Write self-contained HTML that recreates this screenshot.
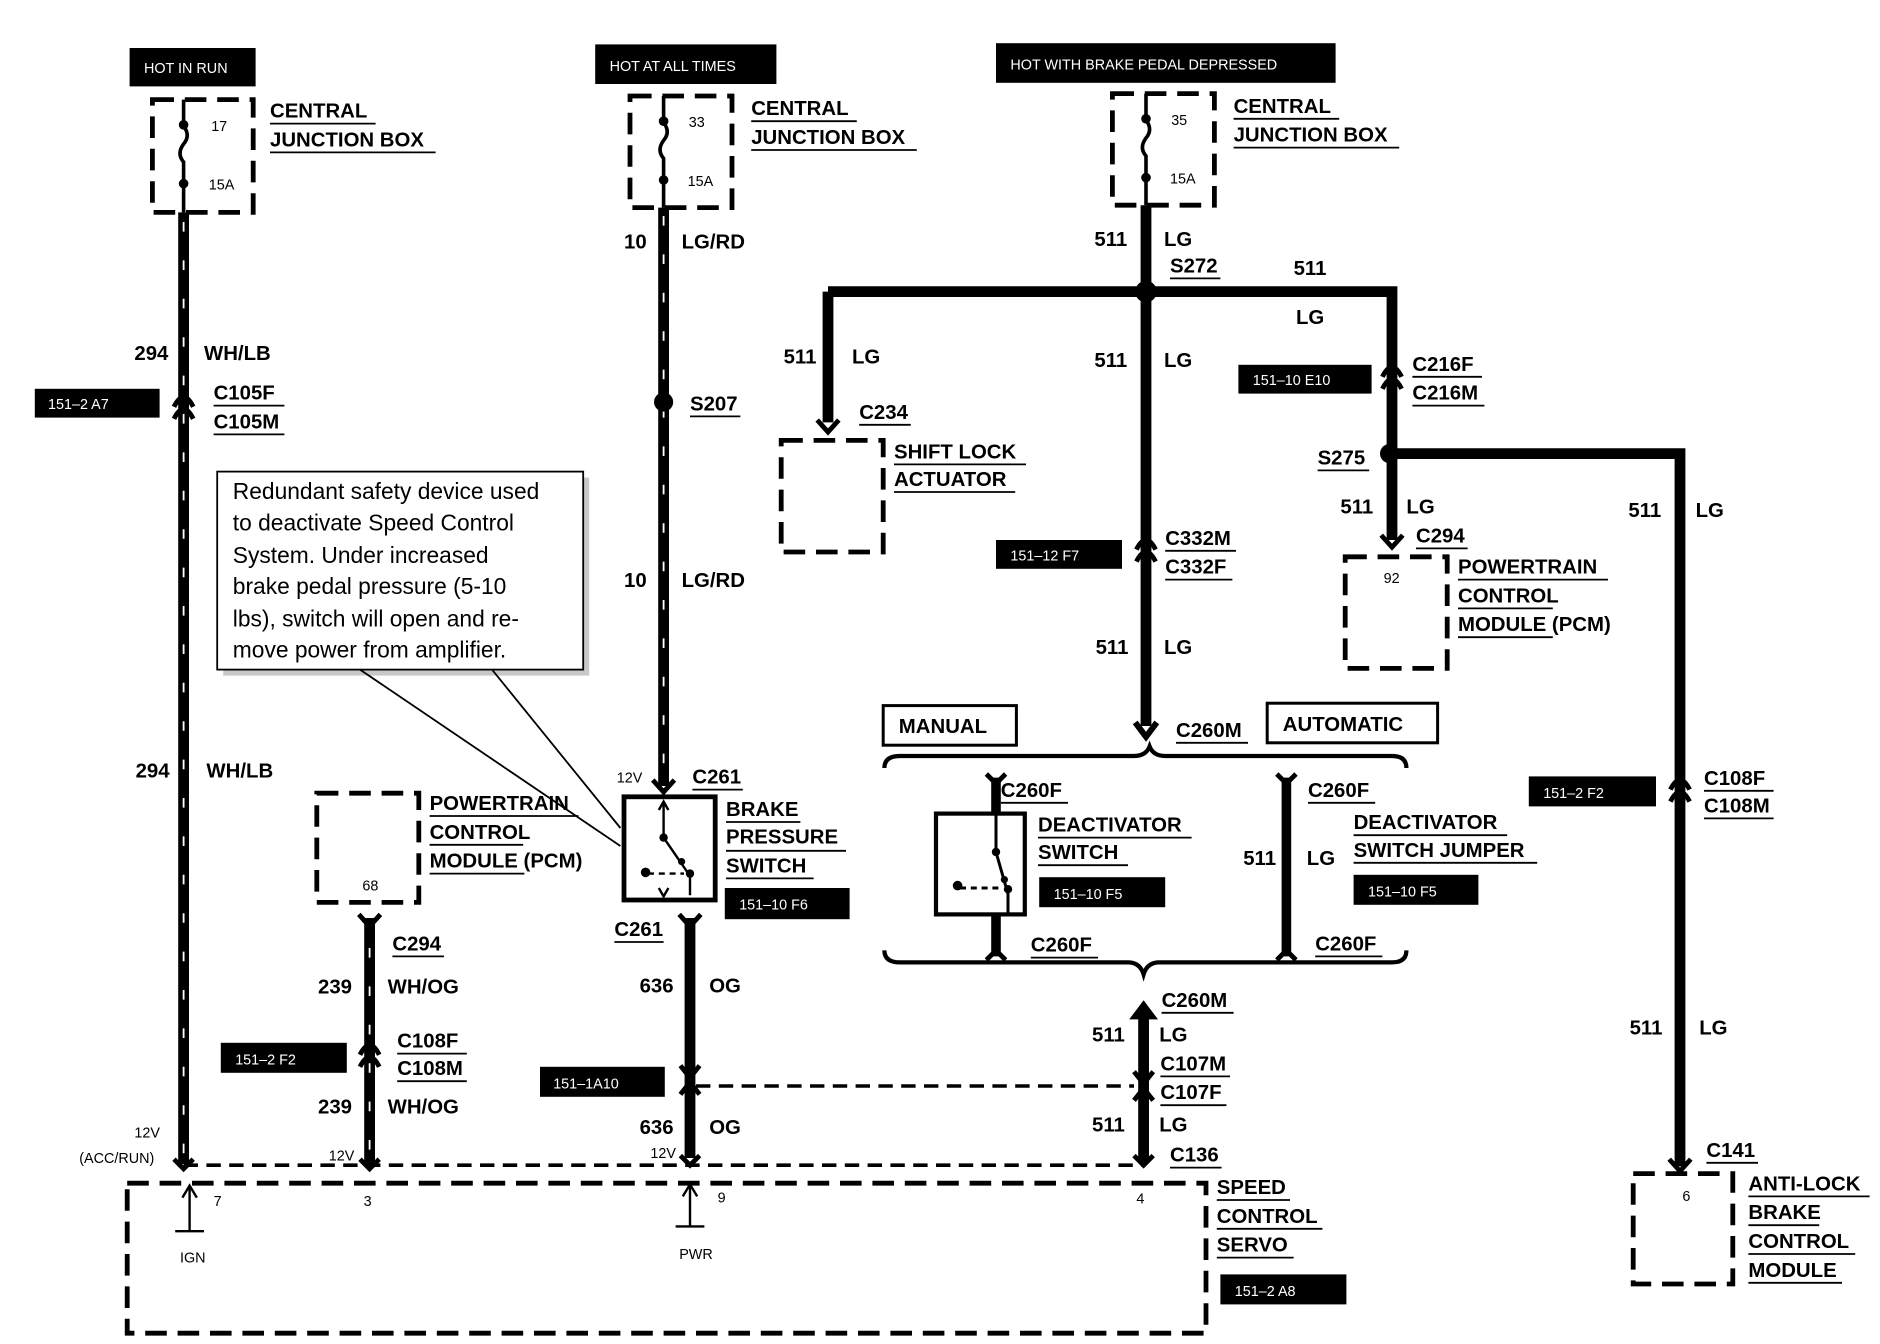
<!DOCTYPE html>
<html><head><meta charset="utf-8"><style>
html,body{margin:0;padding:0;background:#fff}
svg{display:block}
text{font-family:"Liberation Sans",sans-serif;font-weight:bold;fill:#000}
.l{font-size:17px}
.s{font-size:12px;font-weight:normal}
.w{fill:#fff;font-size:12px;font-weight:normal}
.n{font-size:19px;font-weight:normal}
</style></head><body>
<svg width="1880" height="1344" viewBox="0 0 1566.67 1120" xmlns="http://www.w3.org/2000/svg">
<defs>
<g id="conn"><path d="M-8,6 Q0,-10 8,6" fill="none" stroke="#000" stroke-width="4"/><path d="M-8,16 Q0,0 8,16" fill="none" stroke="#000" stroke-width="4"/></g>
</defs>
<rect width="1566.67" height="1120" fill="#fff"/>

<!-- Top black labels -->
<rect x="108" y="40" width="105" height="32" fill="#000"/><text x="120" y="61" class="w">HOT IN RUN</text>
<rect x="496" y="37" width="151" height="33" fill="#000"/><text x="508" y="59" class="w">HOT AT ALL TIMES</text>
<rect x="830" y="36" width="283" height="33" fill="#000"/><text x="842" y="58" class="w">HOT WITH BRAKE PEDAL DEPRESSED</text>

<!-- Fuse boxes -->
<g fill="none" stroke="#000" stroke-width="4" stroke-dasharray="18 9">
<rect x="127" y="83" width="84" height="94"/>
<rect x="525" y="80" width="85" height="93"/>
<rect x="927" y="78" width="85" height="93"/>
</g>
<g stroke="#000" stroke-width="3" fill="none">
<path d="M153,83 V105 q6,8 0,15 q-6,8 0,15 V177"/>
<path d="M553,80 V102 q6,8 0,15 q-6,8 0,15 V173"/>
<path d="M955,78 V100 q6,8 0,15 q-6,8 0,15 V171"/>
</g>
<g fill="#000"><circle cx="153" cy="104" r="4"/><circle cx="153" cy="153" r="4"/><circle cx="553" cy="101" r="4"/><circle cx="553" cy="150" r="4"/><circle cx="955" cy="99" r="4"/><circle cx="955" cy="148" r="4"/></g>
<text x="176" y="109" class="s">17</text><text x="174" y="158" class="s">15A</text>
<text x="574" y="106" class="s">33</text><text x="573" y="155" class="s">15A</text>
<text x="976" y="104" class="s">35</text><text x="975" y="153" class="s">15A</text>

<text x="225" y="98" class="l">CENTRAL</text><text x="225" y="122" class="l">JUNCTION BOX</text>
<path d="M225,103H313M225,127H363" stroke="#000" stroke-width="1.5"/>
<text x="626" y="96" class="l">CENTRAL</text><text x="626" y="120" class="l">JUNCTION BOX</text>
<path d="M626,101H714M626,125H764" stroke="#000" stroke-width="1.5"/>
<text x="1028" y="94" class="l">CENTRAL</text><text x="1028" y="118" class="l">JUNCTION BOX</text>
<path d="M1028,99H1116M1028,123H1166" stroke="#000" stroke-width="1.5"/>

<!-- Left wire -->
<path d="M153,177V970" stroke="#000" stroke-width="9"/>
<path d="M153,185V965" stroke="#fff" stroke-width="1.5" stroke-dasharray="8 24"/>
<text x="112" y="300" class="l">294</text><text x="170" y="300" class="l">WH/LB</text>
<rect x="29" y="324" width="104" height="24" fill="#000"/><text x="40" y="341" class="w">151–2 A7</text>
<use href="#conn" x="153" y="333"/>
<text x="178" y="333" class="l">C105F</text><text x="178" y="357" class="l">C105M</text>
<path d="M178,338H237M178,362H237" stroke="#000" stroke-width="1.5"/>
<text x="113" y="648" class="l">294</text><text x="172" y="648" class="l">WH/LB</text>
<text x="112" y="948" class="s">12V</text><text x="66" y="969" class="s">(ACC/RUN)</text>

<!-- Mid wire -->
<path d="M553,173V655" stroke="#000" stroke-width="9"/>
<path d="M553,180V650" stroke="#fff" stroke-width="1.5" stroke-dasharray="8 24"/>
<text x="520" y="207" class="l">10</text><text x="568" y="207" class="l">LG/RD</text>
<circle cx="553" cy="335" r="8" fill="#000"/>
<text x="575" y="342" class="l">S207</text><path d="M575,347H617" stroke="#000" stroke-width="1.5"/>
<text x="520" y="489" class="l">10</text><text x="568" y="489" class="l">LG/RD</text>
<path d="M544,650 L553,660 L562,650" stroke="#000" stroke-width="4" fill="none"/>
<text x="514" y="652" class="s">12V</text>
<text x="577" y="653" class="l">C261</text><path d="M577,658H619" stroke="#000" stroke-width="1.5"/>

<!-- Note box -->
<rect x="186" y="398" width="305" height="165" fill="#c8c8c8"/>
<rect x="181" y="393" width="305" height="165" fill="#fff" stroke="#000" stroke-width="1.5"/>
<g class="n" font-size="19" font-weight="normal">
<text x="194" y="416" class="n">Redundant safety device used</text>
<text x="194" y="442" class="n">to deactivate Speed Control</text>
<text x="194" y="469" class="n">System.  Under increased</text>
<text x="194" y="495" class="n">brake pedal pressure (5-10</text>
<text x="194" y="522" class="n">lbs), switch will open and re-</text>
<text x="194" y="548" class="n">move power from amplifier.</text>
</g>
<path d="M300,558 L517,705 M410,558 L517,690" stroke="#000" stroke-width="1.5"/>

<!-- Brake pressure switch -->
<rect x="520" y="664" width="76" height="86" fill="#fff" stroke="#000" stroke-width="4"/>
<path d="M553,668V698 L575,730 V746 M549,675 L553,668 L557,675 M549,740 L553,747 L557,740" stroke="#000" stroke-width="2" fill="none"/>
<path d="M540,728H570" stroke="#000" stroke-width="2" stroke-dasharray="5 4"/>
<circle cx="553" cy="698" r="3.5"/><circle cx="568" cy="718" r="3"/><circle cx="575" cy="728" r="3.5"/><circle cx="538" cy="727" r="4"/>
<text x="605" y="680" class="l">BRAKE</text><text x="605" y="703" class="l">PRESSURE</text><text x="605" y="727" class="l">SWITCH</text>
<path d="M605,685H667M605,709H705M605,732H678" stroke="#000" stroke-width="1.5"/>
<rect x="604" y="740" width="104" height="26" fill="#000"/><text x="616" y="758" class="w">151–10 F6</text>

<path d="M575,765V965" stroke="#000" stroke-width="9"/>
<path d="M566,762 L575,772 L584,762" stroke="#000" stroke-width="4" fill="none"/>
<text x="512" y="780" class="l">C261</text><path d="M512,785H553" stroke="#000" stroke-width="1.5"/>
<text x="533" y="827" class="l">636</text><text x="591" y="827" class="l">OG</text>
<path d="M567,888 L575,898 L583,888" stroke="#000" stroke-width="4" fill="none"/>
<path d="M567,912 L575,902 L583,912" stroke="#000" stroke-width="4" fill="none"/>
<rect x="450" y="889" width="104" height="25" fill="#000"/><text x="461" y="907" class="w">151–1A10</text>
<text x="533" y="945" class="l">636</text><text x="591" y="945" class="l">OG</text>
<text x="542" y="965" class="s">12V</text>

<!-- Left PCM -->
<rect x="264" y="661" width="85" height="91" fill="none" stroke="#000" stroke-width="4" stroke-dasharray="18 9"/>
<text x="302" y="742" class="s">68</text>
<text x="358" y="675" class="l">POWERTRAIN</text><text x="358" y="699" class="l">CONTROL</text><text x="358" y="723" class="l">MODULE (PCM)</text>
<path d="M358,680H482M358,704H436M358,728H437" stroke="#000" stroke-width="1.5"/>
<path d="M308,765V970" stroke="#000" stroke-width="9"/>
<path d="M308,790V965" stroke="#fff" stroke-width="1.5" stroke-dasharray="8 24"/>
<path d="M299,762 L308,772 L317,762" stroke="#000" stroke-width="4" fill="none"/>
<text x="327" y="792" class="l">C294</text><path d="M327,797H370" stroke="#000" stroke-width="1.5"/>
<text x="265" y="828" class="l">239</text><text x="323" y="828" class="l">WH/OG</text>
<use href="#conn" x="308" y="873"/>
<text x="331" y="873" class="l">C108F</text><text x="331" y="896" class="l">C108M</text>
<path d="M331,878H389M331,901H389" stroke="#000" stroke-width="1.5"/>
<rect x="184" y="869" width="105" height="25" fill="#000"/><text x="196" y="887" class="w">151–2 F2</text>
<text x="265" y="928" class="l">239</text><text x="323" y="928" class="l">WH/OG</text>
<text x="274" y="967" class="s">12V</text>

<!-- Right top network -->
<path d="M955,171V605" stroke="#000" stroke-width="9"/>
<path d="M690,243H1160V450 M690,243V352" stroke="#000" stroke-width="9" fill="none"/>
<circle cx="955" cy="243" r="9" fill="#000"/>
<text x="912" y="205" class="l">511</text><text x="970" y="205" class="l">LG</text>
<text x="975" y="227" class="l">S272</text><path d="M975,232H1017" stroke="#000" stroke-width="1.5"/>
<text x="1078" y="229" class="l">511</text><text x="1080" y="270" class="l">LG</text>
<text x="653" y="303" class="l">511</text><text x="710" y="303" class="l">LG</text>
<path d="M681,350 L690,360 L699,350" stroke="#000" stroke-width="4" fill="none"/>
<text x="716" y="349" class="l">C234</text><path d="M716,354H759" stroke="#000" stroke-width="1.5"/>
<rect x="651" y="367" width="85" height="93" fill="none" stroke="#000" stroke-width="4" stroke-dasharray="18 9"/>
<text x="745" y="382" class="l">SHIFT LOCK</text><text x="745" y="405" class="l">ACTUATOR</text>
<path d="M745,387H855M745,410H846" stroke="#000" stroke-width="1.5"/>
<text x="912" y="306" class="l">511</text><text x="970" y="306" class="l">LG</text>
<use href="#conn" x="955" y="452"/>
<rect x="830" y="450" width="105" height="24" fill="#000"/><text x="842" y="467" class="w">151–12 F7</text>
<text x="971" y="454" class="l">C332M</text><text x="971" y="478" class="l">C332F</text>
<path d="M971,459H1030M971,483H1027" stroke="#000" stroke-width="1.5"/>
<text x="913" y="545" class="l">511</text><text x="970" y="545" class="l">LG</text>
<path d="M946,602 L955,614 L964,602" stroke="#000" stroke-width="5" fill="none"/>
<text x="980" y="614" class="l">C260M</text><path d="M980,619H1040" stroke="#000" stroke-width="1.5"/>

<rect x="1032" y="304" width="111" height="24" fill="#000"/><text x="1044" y="321" class="w">151–10 E10</text>
<use href="#conn" x="1160" y="308"/>
<text x="1177" y="309" class="l">C216F</text><text x="1177" y="333" class="l">C216M</text>
<path d="M1177,314H1235M1177,338H1237" stroke="#000" stroke-width="1.5"/>
<path d="M1158,378H1400V972" stroke="#000" stroke-width="9" fill="none"/>
<circle cx="1158" cy="378" r="8" fill="#000"/>
<text x="1098" y="387" class="l">S275</text><path d="M1098,392H1141" stroke="#000" stroke-width="1.5"/>
<text x="1117" y="428" class="l">511</text><text x="1172" y="428" class="l">LG</text>
<path d="M1151,446 L1160,456 L1169,446" stroke="#000" stroke-width="4" fill="none"/>
<text x="1180" y="452" class="l">C294</text><path d="M1180,457H1223" stroke="#000" stroke-width="1.5"/>
<rect x="1121" y="464" width="85" height="93" fill="none" stroke="#000" stroke-width="4" stroke-dasharray="18 9"/>
<text x="1153" y="486" class="s">92</text>
<text x="1215" y="478" class="l">POWERTRAIN</text><text x="1215" y="502" class="l">CONTROL</text><text x="1215" y="526" class="l">MODULE (PCM)</text>
<path d="M1215,483H1340M1215,507H1294M1215,531H1294" stroke="#000" stroke-width="1.5"/>
<text x="1357" y="431" class="l">511</text><text x="1413" y="431" class="l">LG</text>
<use href="#conn" x="1400" y="652"/>
<rect x="1274" y="647" width="106" height="25" fill="#000"/><text x="1286" y="665" class="w">151–2 F2</text>
<text x="1420" y="654" class="l">C108F</text><text x="1420" y="677" class="l">C108M</text>
<path d="M1420,659H1478M1420,682H1478" stroke="#000" stroke-width="1.5"/>
<text x="1358" y="862" class="l">511</text><text x="1416" y="862" class="l">LG</text>
<path d="M1391,966 L1400,976 L1409,966" stroke="#000" stroke-width="4" fill="none"/>
<text x="1422" y="964" class="l">C141</text><path d="M1422,969H1465" stroke="#000" stroke-width="1.5"/>
<rect x="1361" y="978" width="83" height="92" fill="none" stroke="#000" stroke-width="4" stroke-dasharray="18 9"/>
<text x="1402" y="1001" class="s">6</text>
<text x="1457" y="992" class="l">ANTI-LOCK</text><text x="1457" y="1016" class="l">BRAKE</text><text x="1457" y="1040" class="l">CONTROL</text><text x="1457" y="1064" class="l">MODULE</text>
<path d="M1457,997H1558M1457,1021H1516M1457,1045H1546M1457,1069H1535" stroke="#000" stroke-width="1.5"/>

<!-- Manual / automatic -->
<rect x="736" y="588" width="111" height="33" fill="none" stroke="#000" stroke-width="2.5"/>
<text x="749" y="611" class="l">MANUAL</text>
<rect x="1056" y="586" width="142" height="33" fill="none" stroke="#000" stroke-width="2.5"/>
<text x="1069" y="609" class="l">AUTOMATIC</text>
<path d="M737,640 Q737,630 750,630 H945 Q955,630 958,622 Q961,630 971,630 H1160 Q1172,630 1172,640" fill="none" stroke="#000" stroke-width="3.5"/>
<path d="M737,792 Q737,802 750,802 H940 Q950,802 953,812 Q956,802 966,802 H1160 Q1172,802 1172,792" fill="none" stroke="#000" stroke-width="3.5"/>

<path d="M830,648V797 M1072,648V797" stroke="#000" stroke-width="8"/>
<path d="M822,645 L830,653 L838,645 M822,800 L830,792 L838,800 M1064,645 L1072,653 L1080,645 M1064,800 L1072,792 L1080,800" stroke="#000" stroke-width="4" fill="none"/>
<rect x="780" y="678" width="74" height="84" fill="#fff" stroke="#000" stroke-width="3.5"/>
<path d="M830,678V710 L840,745 V762" stroke="#000" stroke-width="2.5" fill="none"/>
<path d="M800,740H836" stroke="#000" stroke-width="2.5" stroke-dasharray="5 4"/>
<circle cx="830" cy="710" r="3.5"/><circle cx="837" cy="733" r="3"/><circle cx="840" cy="741" r="3.5"/><circle cx="798" cy="738" r="4"/>
<text x="834" y="664" class="l">C260F</text><path d="M834,669H890" stroke="#000" stroke-width="1.5"/>
<text x="865" y="693" class="l">DEACTIVATOR</text><text x="865" y="716" class="l">SWITCH</text>
<path d="M865,698H993M865,721H940" stroke="#000" stroke-width="1.5"/>
<rect x="866" y="731" width="105" height="25" fill="#000"/><text x="878" y="749" class="w">151–10 F5</text>
<text x="859" y="793" class="l">C260F</text><path d="M859,798H915" stroke="#000" stroke-width="1.5"/>
<text x="1090" y="664" class="l">C260F</text><path d="M1090,669H1146" stroke="#000" stroke-width="1.5"/>
<text x="1128" y="691" class="l">DEACTIVATOR</text><text x="1128" y="714" class="l">SWITCH JUMPER</text>
<path d="M1128,696H1256M1128,719H1281" stroke="#000" stroke-width="1.5"/>
<rect x="1128" y="729" width="104" height="25" fill="#000"/><text x="1140" y="747" class="w">151–10 F5</text>
<text x="1036" y="721" class="l">511</text><text x="1089" y="721" class="l">LG</text>
<text x="1096" y="792" class="l">C260F</text><path d="M1096,797H1152" stroke="#000" stroke-width="1.5"/>

<!-- Bottom right wire -->
<path d="M953,845V968" stroke="#000" stroke-width="9"/>
<path d="M944,848 L953,836 L962,848 Z" fill="#000" stroke="#000" stroke-width="3"/>
<path d="M945,893 L953,903 L961,893 M945,917 L953,907 L961,917" stroke="#000" stroke-width="4" fill="none"/>
<text x="968" y="839" class="l">C260M</text><path d="M968,844H1028" stroke="#000" stroke-width="1.5"/>
<text x="910" y="868" class="l">511</text><text x="966" y="868" class="l">LG</text>
<text x="967" y="892" class="l">C107M</text><text x="967" y="916" class="l">C107F</text>
<path d="M967,897H1025M967,921H1022" stroke="#000" stroke-width="1.5"/>
<text x="910" y="943" class="l">511</text><text x="966" y="943" class="l">LG</text>
<text x="975" y="968" class="l">C136</text><path d="M975,973H1018" stroke="#000" stroke-width="1.5"/>

<!-- Dashed links -->
<path d="M580,905H945" stroke="#000" stroke-width="3" stroke-dasharray="12 7"/>
<path d="M153,971H953" stroke="#000" stroke-width="3" stroke-dasharray="12 7"/>
<g stroke="#000" stroke-width="4" fill="none">
<path d="M145,966 L153,974 L161,966 M300,966 L308,974 L316,966 M567,963 L575,971 L583,963 M945,963 L953,971 L961,963"/>
</g>

<!-- Speed control servo -->
<rect x="106" y="986" width="899" height="125" fill="none" stroke="#000" stroke-width="4" stroke-dasharray="18 9"/>
<path d="M158,990V1026 M146,1026H170 M575,987V1022 M563,1022H587" stroke="#000" stroke-width="2"/>
<path d="M152,998 L158,988 L164,998 M569,997 L575,987 L581,997" stroke="#000" stroke-width="2" fill="none"/>
<text x="178" y="1005" class="s">7</text><text x="303" y="1005" class="s">3</text><text x="598" y="1002" class="s">9</text><text x="947" y="1003" class="s">4</text>
<text x="150" y="1052" class="s">IGN</text><text x="566" y="1049" class="s">PWR</text>
<text x="1014" y="995" class="l">SPEED</text><text x="1014" y="1019" class="l">CONTROL</text><text x="1014" y="1043" class="l">SERVO</text>
<path d="M1014,1000H1075M1014,1024H1102M1014,1048H1078" stroke="#000" stroke-width="1.5"/>
<rect x="1017" y="1062" width="105" height="25" fill="#000"/><text x="1029" y="1080" class="w">151–2 A8</text>
</svg>
</body></html>
